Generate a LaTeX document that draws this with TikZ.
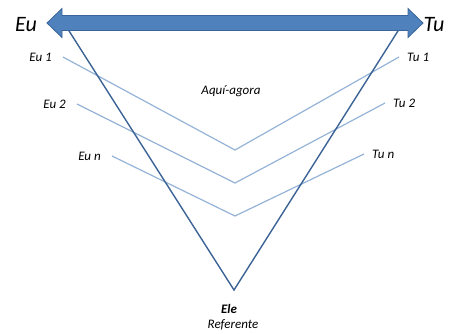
\documentclass[tikz,border=0pt]{standalone}
\usepackage{fontspec}
\setmainfont{Carlito}
\usetikzlibrary{positioning, calc}
\definecolor{arrowblue}{HTML}{4F81BD}
\definecolor{arrowedge}{HTML}{3A659A}
\definecolor{vdark}{HTML}{3B6395}
\definecolor{vlight}{HTML}{95B3D7}

\begin{document}
\begin{tikzpicture}[x=1pt, y=-1pt]
    \tikzstyle{persona}=[font=\fontsize{22}{24}\selectfont\itshape, inner sep=0pt]
    \tikzstyle{lbl}=[font=\fontsize{13}{15}\selectfont\itshape, inner sep=1pt]
    \tikzstyle{deixis}=[draw=vdark, line width=1.4pt]
    \tikzstyle{tempo}=[draw=vlight, line width=1.2pt]
    \tikzstyle{bigarrow}=[fill=arrowblue, draw=arrowedge, line width=0.8pt, line join=miter]

    \useasboundingbox (0,0) rectangle (451,333);

    \coordinate (L) at (47,23);
    \coordinate (R) at (423,23);
    \coordinate (V) at (234,290);
    \coordinate (VL) at (64,23);
    \coordinate (VR) at (403,23);

	\foreach \i/\n/\ex/\ey/\vy/\tx/\ty in {1/1/63/57/150/399/57, 2/2/77/104/183/385/103, 3/n/112/156/216/364/154}{
		\coordinate (e-\i) at (\ex,\ey);
		\coordinate (v-\i) at (235,\vy);
		\coordinate (t-\i) at (\tx,\ty);
		\draw[tempo] (e-\i) -- (v-\i) -- (t-\i);
		\node[lbl, left=10pt of e-\i] (Eu-\i) {Eu \n};
		\node[lbl, right=7pt of t-\i] (Tu-\i) {Tu \n};
	}

	\draw[deixis] (VL) -- (V) -- (VR);

%	seta eu <-> tu
	\path[bigarrow] (L) -- ($(L)+(15,-14.5)$) -- ($(L)+(15,-7.5)$) -- ($(R)+(-15,-7.5)$) -- ($(R)+(-15,-14.5)$)
		-- (R) -- ($(R)+(-15,14.5)$) -- ($(R)+(-15,7.5)$) -- ($(L)+(15,7.5)$) -- ($(L)+(15,14.5)$) -- cycle;

	\node[persona] (Eu) at (26,25) {Eu};
	\node[persona] (Tu) at (434,25) {Tu};
	\node[lbl] (aqui) at (231,91) {Aquí-agora};
	\node[lbl, font=\fontsize{13}{15}\selectfont\bfseries\itshape] (Ele) at (229,309) {Ele};
	\node[lbl] (ref) at (233,325) {Referente};
\end{tikzpicture}
\end{document}
